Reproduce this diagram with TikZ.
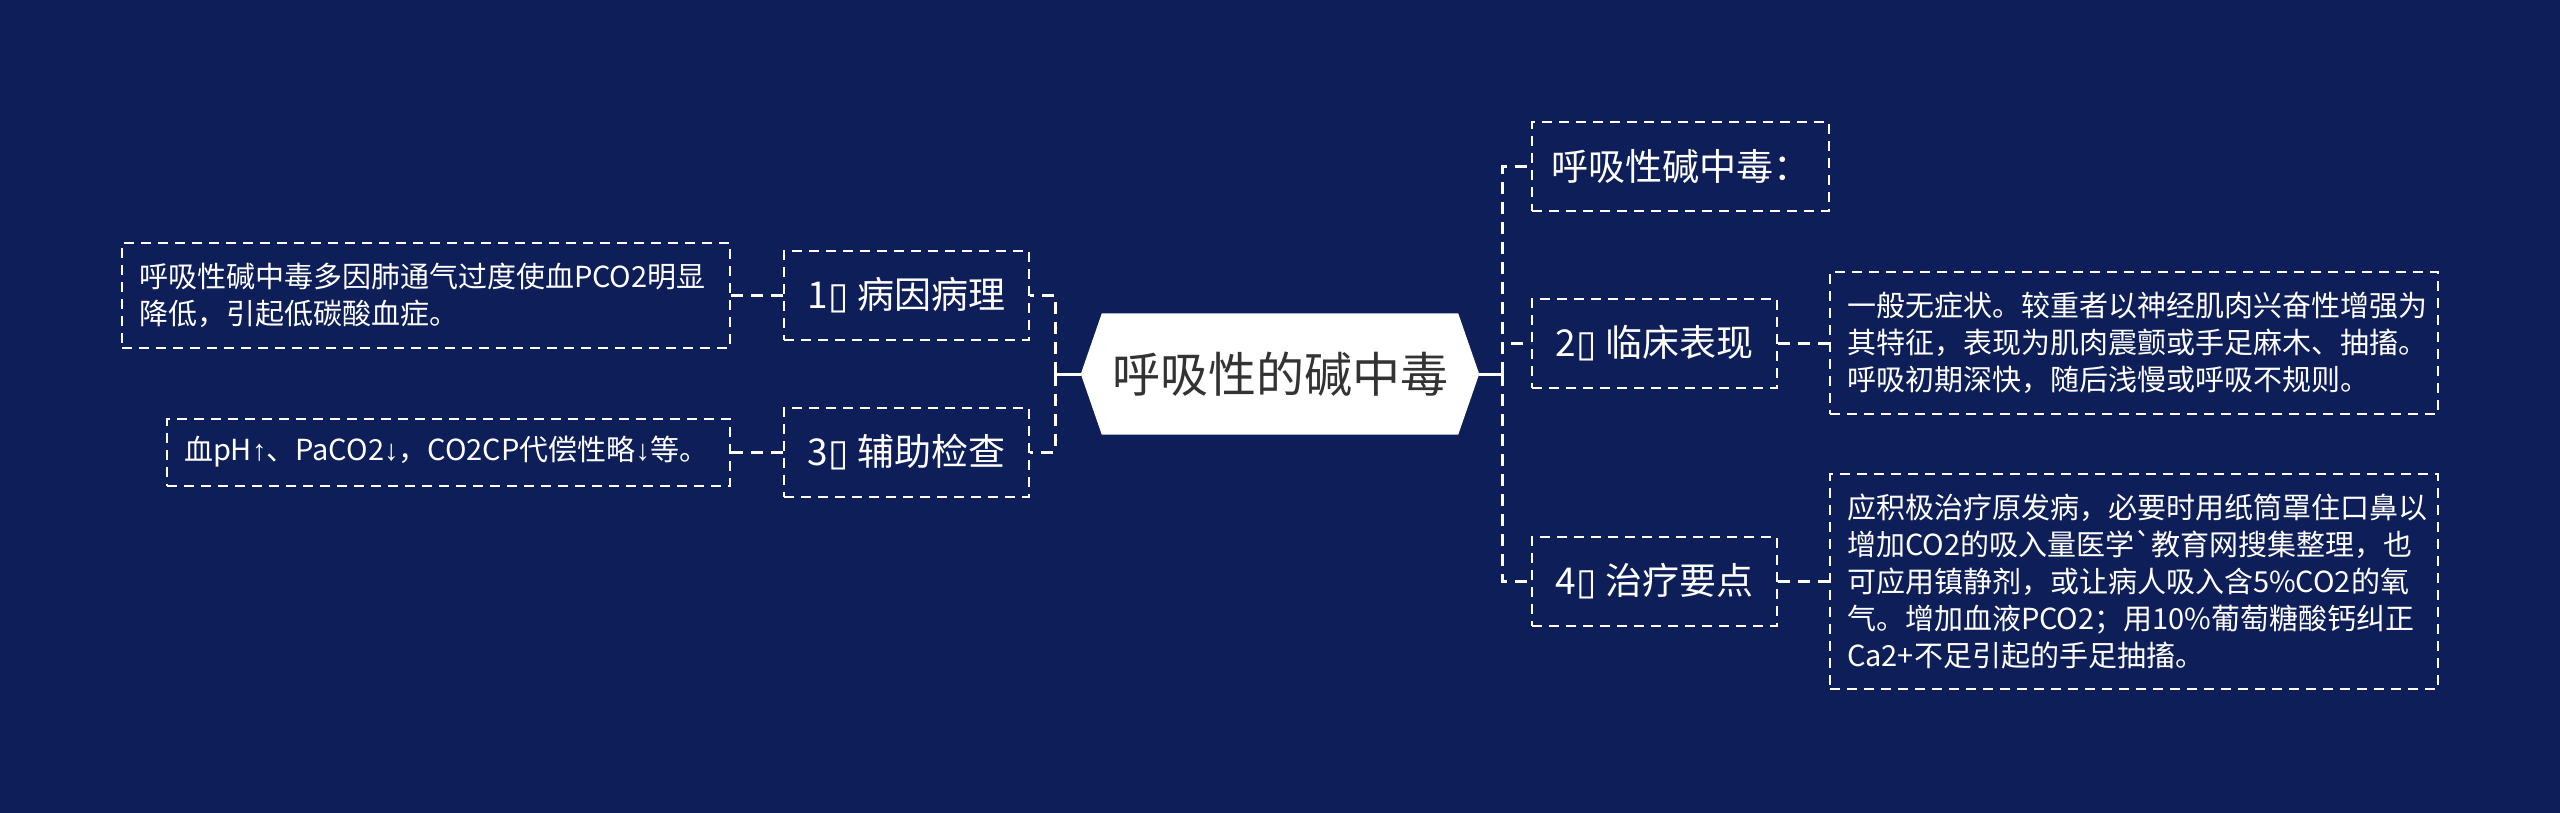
\documentclass[tikz,border=0pt]{standalone}
\usepackage{fontspec}
\setmainfont{Noto Sans CJK SC}
\newfontfamily\dejavu{DejaVu Sans}
\newfontfamily\libsans{Liberation Sans}
\usetikzlibrary{backgrounds}
\definecolor{bgc}{RGB}{13,30,89}
\definecolor{rootfg}{RGB}{51,51,51}
\newcommand{\tofuglyph}{{\dejavu ▯}}
\newcommand{\uparr}{{\libsans ↑}}
\newcommand{\downarr}{{\libsans ↓}}
\begin{document}
\begin{tikzpicture}[x=1pt,y=-1pt,
  box/.style={draw=white, line width=2pt, dash pattern=on 10pt off 7pt, text=white, inner sep=0pt},
  topic/.style={box, minimum width=245pt, minimum height=89pt, font=\fontsize{37}{42}\selectfont},
  detail/.style={box, align=left, font=\fontsize{29}{37}\selectfont, inner xsep=17pt},
  conn/.style={draw=white, line width=3pt, dash pattern=on 12pt off 8pt},
  stem/.style={draw=white, line width=3pt},
  rootnode/.style={minimum width=398pt, minimum height=121pt, inner sep=0pt, text=rootfg, font=\fontsize{48}{52}\selectfont}
]
\begin{pgfonlayer}{background}
\fill[bgc] (0,0) rectangle (2560,813);
\end{pgfonlayer}
\useasboundingbox (0,0) rectangle (2560,813);

\node[rootnode] (root) at (1280,374) {呼吸性的碱中毒};
\begin{pgfonlayer}{background}
\fill[white] (root.west) -- ([xshift=21pt]root.north west) -- ([xshift=-21pt]root.north east) -- (root.east) -- ([xshift=-21pt]root.south east) -- ([xshift=21pt]root.south west) -- cycle;
\end{pgfonlayer}

% left side
\node[topic] (n1) at (906.5,295.5) {1\tofuglyph{} 病因病理};
\node[topic] (n3) at (906.5,452) {3\tofuglyph{} 辅助检查};
\node[detail, text width=574pt, minimum height=105pt] (d1) at (426,295.5) {呼吸性碱中毒多因肺通气过度使血PCO2明显\\降低，引起低碳酸血症。};
\node[detail, text width=529pt, minimum height=67pt] (d3) at (448.5,452) {血pH\uparr、PaCO2\downarr，CO2CP代偿性略\downarr 等。};

% right side
\node[topic, minimum width=297pt] (t0) at (1680.5,166.5) {呼吸性碱中毒：};
\node[topic] (n2) at (1654.5,343) {2\tofuglyph{} 临床表现};
\node[topic] (n4) at (1654.5,581) {4\tofuglyph{} 治疗要点};
\node[detail, text width=574pt, minimum height=142pt] (d2) at (2134,343) {一般无症状。较重者以神经肌肉兴奋性增强为\\其特征，表现为肌肉震颤或手足麻木、抽搐。\\呼吸初期深快，随后浅慢或呼吸不规则。};
\node[detail, text width=574pt, minimum height=215pt] (d4) at (2134,581) {应积极治疗原发病，必要时用纸筒罩住口鼻以\\增加CO2的吸入量医学\textasciigrave 教育网搜集整理，也\\可应用镇静剂，或让病人吸入含5\%CO2的氧\\气。增加血液PCO2；用10\%葡萄糖酸钙纠正\\Ca2+不足引起的手足抽搐。};

% connectors
\coordinate (lj) at (1055,374);
\coordinate (rj) at (1502,374);
\draw[stem] (root.west) -- (lj);
\draw[stem] (root.east) -- (rj);
\draw[conn] (lj) |- (n1.east);
\draw[conn] (lj) |- (n3.east);
\draw[conn] (rj) |- (t0.west);
\draw[conn] (rj) |- (n2.west);
\draw[conn] (rj) |- (n4.west);
\draw[conn] (n1.west) -- (d1.east);
\draw[conn] (n3.west) -- (d3.east);
\draw[conn] (n2.east) -- (d2.west);
\draw[conn] (n4.east) -- (d4.west);
\end{tikzpicture}
\end{document}
